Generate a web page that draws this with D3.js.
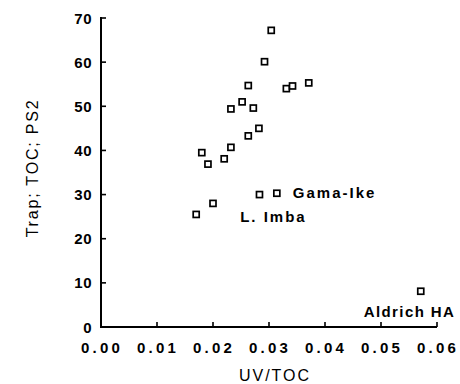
<!DOCTYPE html>
<html><head><meta charset="utf-8">
<script src="https://cdn.jsdelivr.net/npm/d3@7"></script>
<style>
body{margin:0;background:#fff;color:#000;}
#wrap{position:relative;width:460px;height:384px;}
#wrap svg{position:absolute;left:0;top:0;}
text{font-family:"Liberation Sans",Arial,sans-serif;fill:#000;}
</style></head>
<body><div id="wrap"><svg id="t" width="460" height="384"></svg><svg id="m" width="460" height="384"></svg></div>
<script>
const uvToc = [0.0304,0.0292,0.0263,0.0331,0.0342,0.0371,0.0252,0.0232,0.0272,0.0282,0.0263,0.0232,0.0180,0.0191,0.0220,0.0170,0.0200,0.0283,0.0314,0.0571];
const trapToc = [67.2,60.1,54.7,54.0,54.6,55.3,51.0,49.4,49.6,45.0,43.3,40.7,39.5,36.9,38.1,25.5,28.0,30.0,30.3,8.1];
const xTicks = [0,0.01,0.02,0.03,0.04,0.05,0.06];
const yTicks = [0,10,20,30,40,50,60,70];
const labels = [{text:"Gama-Ike",x:0.0314,y:30.3},{text:"L. Imba",x:0.0170,y:25.5},{text:"Aldrich HA",x:0.0571,y:8.1}];

const x = d3.scaleLinear().domain([0,0.06]).range([101,437]);
const y = d3.scaleLinear().domain([0,70]).range([327,18]);

// marks layer
const m = d3.select("#m");
const axisRects = [
  [x(0)-1, y(0)-1, x(0.06)-x(0)+1, 2],
  [x(0)-1, y(70)-1, 2, y(0)-y(70)+1]
].concat(xTicks.slice(1).map(d=>[x(d)-0.8, y(0)-5, 1.6, 5]))
 .concat(yTicks.slice(1).map(d=>[x(0), y(d)-0.8, 5, 1.6]));
m.append("g").selectAll("rect").data(axisRects).join("rect")
  .attr("x",d=>d[0]).attr("y",d=>d[1]).attr("width",d=>d[2]).attr("height",d=>d[3])
  .attr("fill","#000");
m.append("g").selectAll("rect").data(uvToc.map((v,i)=>[v,trapToc[i]])).join("rect")
  .attr("x",d=>x(d[0])-3).attr("y",d=>y(d[1])-3).attr("width",6).attr("height",6)
  .attr("fill","#fff").attr("stroke","#000").attr("stroke-width",1.7);

// text layer
const t = d3.select("#t");
t.append("g").selectAll("text").data(xTicks).join("text")
  .attr("x",d=>x(d)+1).attr("y",353)
  .attr("text-anchor","middle").attr("font-size",15).attr("font-weight","bold")
  .attr("letter-spacing",3.2).text(d=>d3.format(".2f")(d));
t.append("g").selectAll("text").data(yTicks).join("text")
  .attr("x",92).attr("y",d=>y(d)+5.5)
  .attr("text-anchor","end").attr("font-size",15).attr("font-weight","bold")
  .attr("letter-spacing",0.5).text(d=>d);
const offs = {"Gama-Ike":[16,5],"L. Imba":[44,8],"Aldrich HA":[-57,26]};
t.append("g").selectAll("text").data(labels).join("text")
  .attr("x",d=>x(d.x)+offs[d.text][0]).attr("y",d=>y(d.y)+offs[d.text][1])
  .attr("text-anchor","start")
  .attr("font-size",15).attr("font-weight","bold").attr("letter-spacing",d=>d.text==="Aldrich HA"?1.4:2)
  .text(d=>d.text);
t.append("text").attr("x",275).attr("y",381).attr("text-anchor","middle")
  .attr("font-size",16).attr("letter-spacing",2).text("UV/TOC");
t.append("text").attr("transform","translate(38,168) rotate(-90)").attr("text-anchor","middle")
  .attr("font-size",16).attr("letter-spacing",1.8).text("Trap; TOC; PS2");
</script></body></html>
